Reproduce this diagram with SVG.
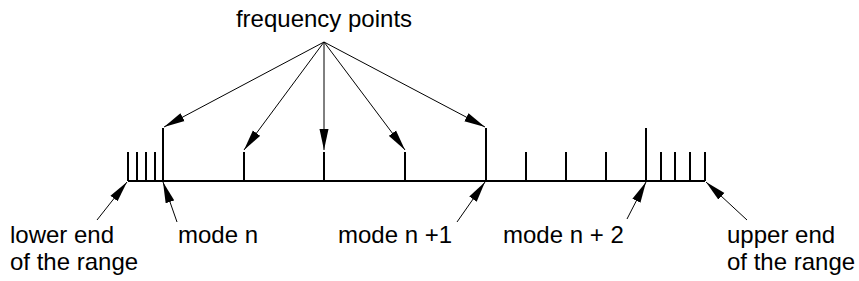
<svg xmlns="http://www.w3.org/2000/svg" width="859" height="281" viewBox="0 0 859 281">
<style>
text{font-family:"Liberation Sans",Arial,sans-serif;font-size:24px;fill:#000}
.ax{stroke:#000;stroke-width:2;fill:none}
.c{stroke:#000;stroke-width:1;fill:none;marker-end:url(#ah)}
</style>
<defs>
<marker id="ah" markerUnits="userSpaceOnUse" markerWidth="22" markerHeight="10" refX="21" refY="5" orient="auto" viewBox="0 0 22 10">
<path d="M0,0.5 L21,5 L0,9.5 Z" fill="#000"/>
</marker>
</defs>
<rect width="859" height="281" fill="#fff"/>
<g id="axis">
<path class="ax" d="M128,181 H705"/>
<path class="ax" d="M128,181 V152 M137,181 V152 M146,181 V152 M155,181 V152 M163,181 V128 M244,181 V152 M324,181 V152 M405,181 V152 M486,181 V128 M526,181 V152 M566,181 V152 M606,181 V152 M646,181 V128 M661,181 V152 M675,181 V152 M690,181 V152 M705,181 V152"/>
</g>
<g id="frequency-points"><text x="324" y="27" text-anchor="middle">frequency points</text></g>
<g id="lower-end"><text x="10" y="243">lower end</text><text x="10" y="270">of the range</text></g>
<g id="mode-n"><text x="178" y="243">mode n</text></g>
<g id="mode-n1"><text x="338" y="243">mode n +1</text></g>
<g id="mode-n2"><text x="503" y="243">mode n + 2</text></g>
<g id="upper-end"><text x="727" y="243">upper end</text><text x="727" y="270">of the range</text></g>
<g id="connectors">
<line class="c" x1="324" y1="42" x2="164" y2="127"/>
<line class="c" x1="324" y1="42" x2="244" y2="150"/>
<line class="c" x1="324" y1="42" x2="324" y2="150"/>
<line class="c" x1="324" y1="42" x2="405" y2="150"/>
<line class="c" x1="324" y1="42" x2="485" y2="127"/>
<line class="c" x1="97" y1="220" x2="127" y2="182"/>
<line class="c" x1="177" y1="222" x2="163" y2="182"/>
<line class="c" x1="457" y1="222" x2="485" y2="182"/>
<line class="c" x1="627" y1="219" x2="646" y2="182"/>
<line class="c" x1="747" y1="220" x2="706" y2="182"/>
</g>
</svg>
